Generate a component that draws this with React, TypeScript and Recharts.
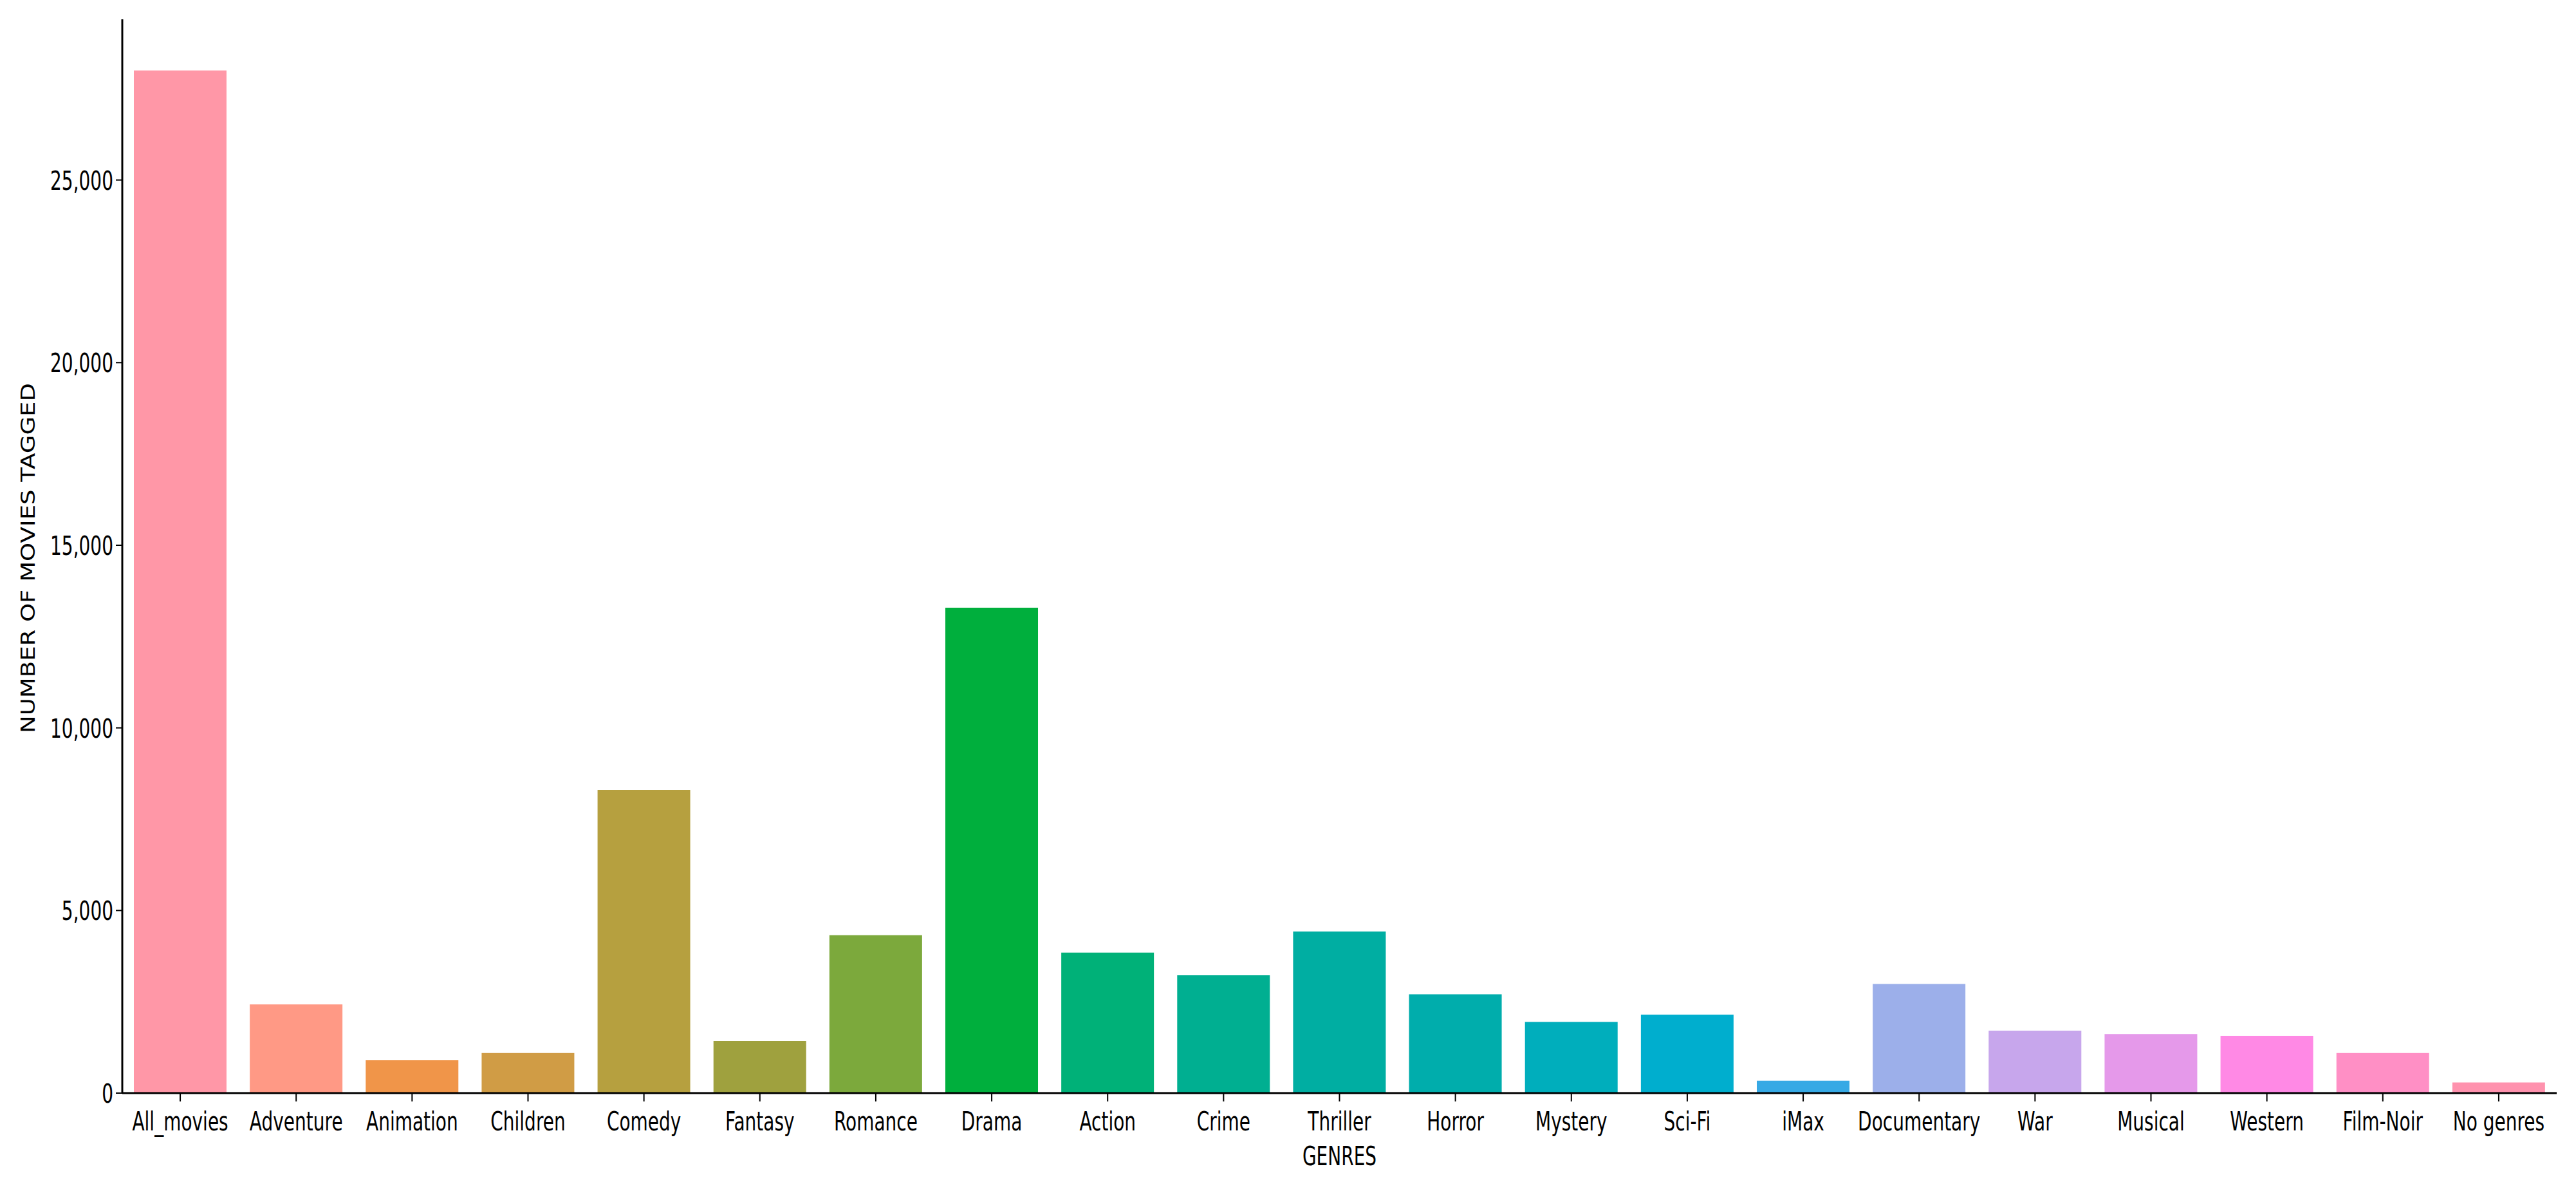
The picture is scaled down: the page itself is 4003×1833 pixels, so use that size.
import React from "react";
import { BarChart, Bar, Cell, XAxis, YAxis } from "recharts";

const genres = ["All_movies","Adventure","Animation","Children","Comedy","Fantasy","Romance","Drama","Action","Crime","Thriller","Horror","Mystery","Sci-Fi","iMax","Documentary","War","Musical","Western","Film-Noir","No genres"];
const counts = [28000,2430,900,1097,8300,1427,4323,13290,3845,3226,4422,2706,1947,2145,338,2987,1708,1617,1568,1097,289];
const colors = ["#ff97a7","#ff9985","#f09549","#d09c45","#b6a03f","#9fa13e","#7ca93c","#00af3d","#00b178","#00af91","#00aea2","#00adac","#00aebc","#00aece","#36a9e5","#9cafea","#c7a6ec","#e599ea","#ff89e5","#ff8fc5","#ff92ae"];
const yTicks = [0,5000,10000,15000,20000,25000];

const data = genres.map((genre, i) => ({ genre, count: counts[i], color: colors[i] }));
const FONT = "'DejaVu Sans'";
const SX = 0.7;
const FS = 40;

const XTick = (p: any) => (
  <text transform={`translate(${p.x},${p.y + 43}) scale(${SX},1)`} textAnchor="middle" fontFamily={FONT} fontSize={FS} fill="#000">{p.payload.value}</text>
);
const YTick = (p: any) => (
  <text transform={`translate(${p.x - 2},${p.y + 15}) scale(${SX},1)`} textAnchor="end" fontFamily={FONT} fontSize={FS} fill="#000">{Number(p.payload.value).toLocaleString("en-US")}</text>
);
const XLabel = (p: any) => (
  <text transform={`translate(${p.viewBox.x + p.viewBox.width / 2},1810) scale(${SX},1)`} textAnchor="middle" fontFamily={FONT} fontSize={FS} fill="#000">GENRES</text>
);
const YLabel = (p: any) => (
  <text transform={`translate(54,${p.viewBox.y + p.viewBox.height / 2 + 3}) rotate(-90) scale(1,0.8)`} textAnchor="middle" fontFamily={FONT} fontSize={37} fill="#000">NUMBER OF MOVIES TAGGED</text>
);

export default function App() {
  return (
    <div style={{ position: "absolute", left: 0, top: 0, width: 4003, height: 1833, background: "#fff" }}>
      <BarChart width={4003} height={1833} data={data} barCategoryGap="10%" margin={{ top: 30, right: 30, bottom: 0, left: 0 }}>
        <XAxis dataKey="genre" interval={0} height={135} tick={<XTick />} tickSize={13} tickLine={{ stroke: "#000", strokeWidth: 2 }} axisLine={{ stroke: "#000", strokeWidth: 3 }} label={<XLabel />} />
        <YAxis width={190} domain={[0, 29400]} ticks={yTicks} tick={<YTick />} tickSize={10} tickLine={{ stroke: "#000", strokeWidth: 2 }} axisLine={{ stroke: "#000", strokeWidth: 3 }} label={<YLabel />} />
        <Bar dataKey="count" isAnimationActive={false}>
          {data.map((d) => <Cell key={d.genre} fill={d.color} />)}
        </Bar>
      </BarChart>
    </div>
  );
}
